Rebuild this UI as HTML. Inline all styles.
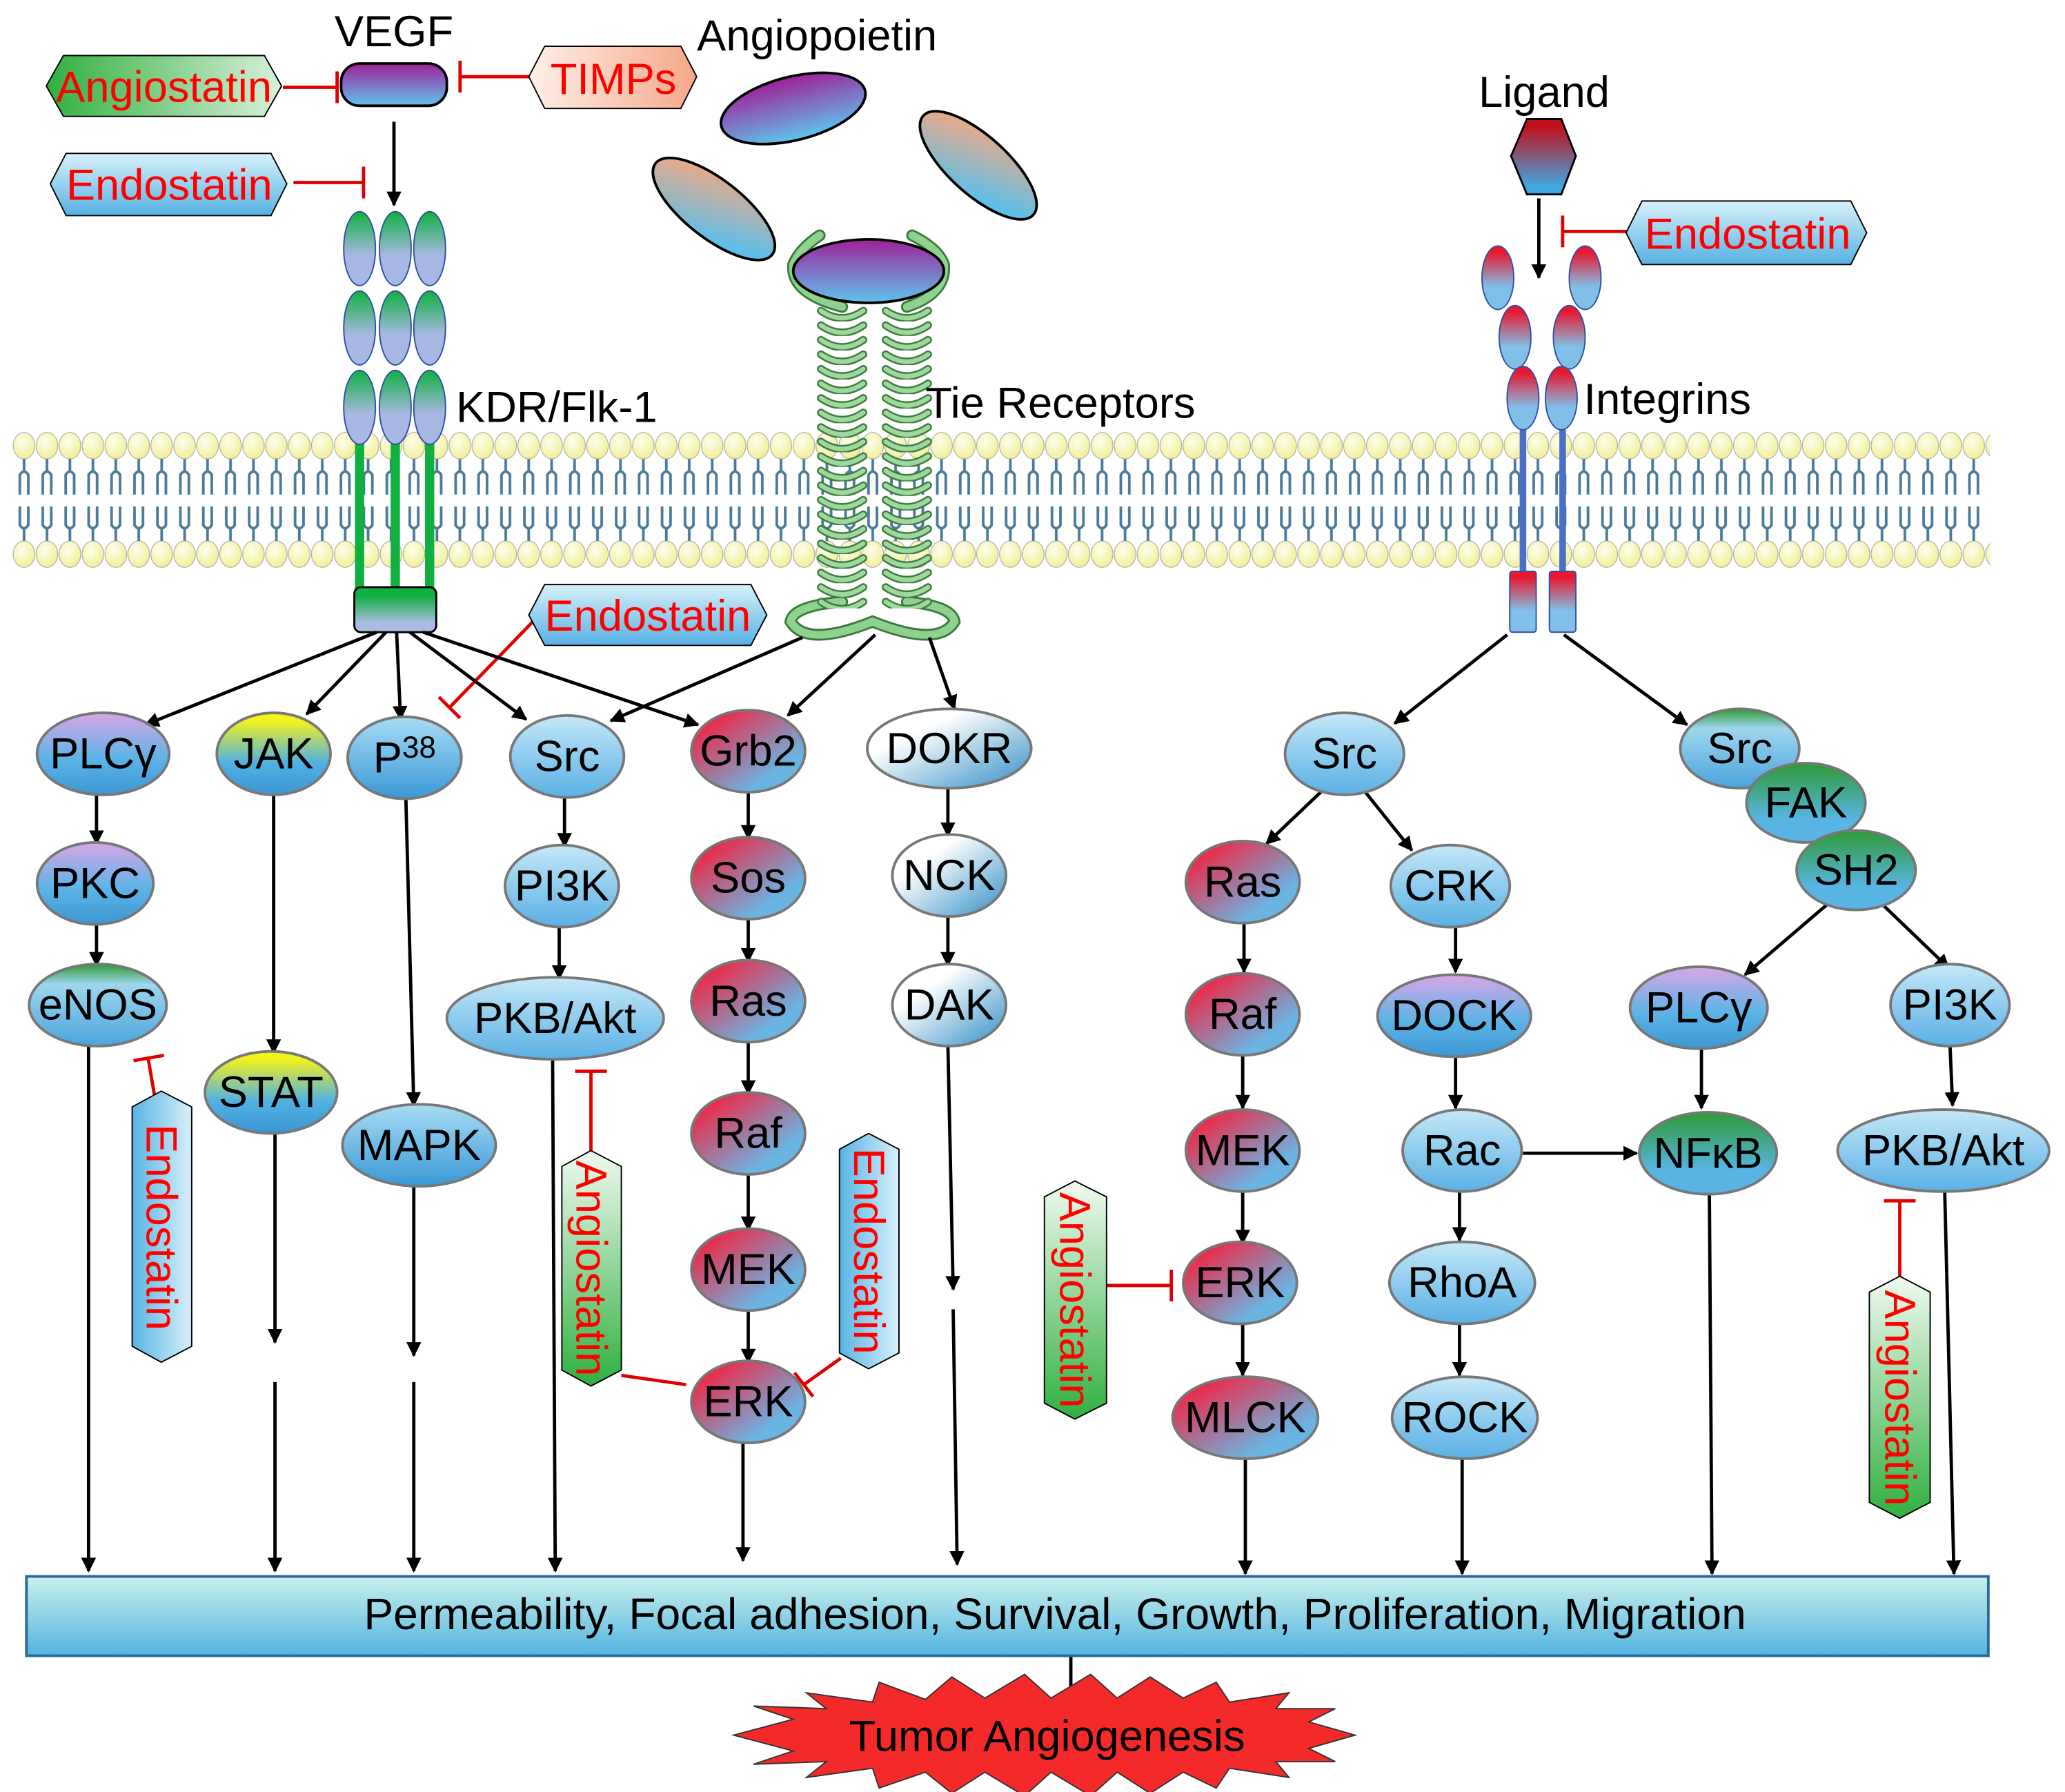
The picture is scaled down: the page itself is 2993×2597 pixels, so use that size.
<!DOCTYPE html>
<html><head><meta charset="utf-8"><style>html,body{margin:0;padding:0;background:#fff}svg{display:block}</style></head>
<body>
<svg xmlns="http://www.w3.org/2000/svg" width="2993" height="2597" viewBox="0 0 1562 1355" preserveAspectRatio="none" font-family="Liberation Sans, sans-serif">
<defs>
<radialGradient id="head" cx="0.4" cy="0.35" r="0.7"><stop offset="0" stop-color="#fffff0"/><stop offset="1" stop-color="#f0ee90"/></radialGradient>
<pattern id="mem" x="9.5" y="326" width="17.35" height="106" patternUnits="userSpaceOnUse">
<ellipse cx="8.7" cy="11" rx="8.2" ry="10" fill="url(#head)" stroke="#aaa" stroke-width="0.6"/>
<ellipse cx="8.7" cy="93" rx="8.2" ry="10" fill="url(#head)" stroke="#aaa" stroke-width="0.6"/>
<path d="M8.7 21 V30 M5.5 48 V33 Q8.7 28 11.9 33 V48 M8.7 83 V74 M5.5 57 V71 Q8.7 76 11.9 71 V57" stroke="#4a7a98" stroke-width="2" fill="none"/>
</pattern>
<pattern id="coilA" x="617" y="232" width="40" height="11" patternUnits="userSpaceOnUse">
<path d="M4 3 Q20 14 36 3" stroke="#3a7a3a" stroke-width="6" fill="none" stroke-linecap="round"/>
<path d="M4 3 Q20 14 36 3" stroke="#9ed89e" stroke-width="3.5" fill="none" stroke-linecap="round"/>
</pattern>
<pattern id="coilB" x="666" y="232" width="40" height="11" patternUnits="userSpaceOnUse">
<path d="M4 3 Q20 14 36 3" stroke="#3a7a3a" stroke-width="6" fill="none" stroke-linecap="round"/>
<path d="M4 3 Q20 14 36 3" stroke="#9ed89e" stroke-width="3.5" fill="none" stroke-linecap="round"/>
</pattern>
<linearGradient id="gP" x1="0" y1="0" x2="0" y2="1"><stop offset="0" stop-color="#d9a6e6"/><stop offset="0.55" stop-color="#5eb4e6"/><stop offset="1" stop-color="#3c98d4"/></linearGradient>
<linearGradient id="gY" x1="0" y1="0" x2="0" y2="1"><stop offset="0.1" stop-color="#f2f21c"/><stop offset="0.6" stop-color="#52b2e2"/><stop offset="1" stop-color="#3a96d4"/></linearGradient>
<linearGradient id="gB" x1="0" y1="0" x2="0" y2="1"><stop offset="0" stop-color="#a8dcf4"/><stop offset="1" stop-color="#3a98d6"/></linearGradient>
<linearGradient id="gBL" x1="0" y1="0" x2="0" y2="1"><stop offset="0" stop-color="#c4e8f8"/><stop offset="1" stop-color="#5ab0e4"/></linearGradient>
<linearGradient id="gR" x1="0" y1="0" x2="1" y2="1"><stop offset="0.15" stop-color="#ec2a48"/><stop offset="0.75" stop-color="#6ab4e2"/></linearGradient>
<linearGradient id="gW" x1="0" y1="0" x2="1" y2="1"><stop offset="0.3" stop-color="#ffffff"/><stop offset="1" stop-color="#2e8cc4"/></linearGradient>
<linearGradient id="gG" x1="0" y1="0" x2="0" y2="1"><stop offset="0" stop-color="#2e9a34"/><stop offset="0.7" stop-color="#58b4e2"/></linearGradient>
<linearGradient id="gGB" x1="0" y1="0" x2="0" y2="1"><stop offset="0" stop-color="#2e9a34"/><stop offset="0.25" stop-color="#9ed6ee"/><stop offset="1" stop-color="#4aa4dc"/></linearGradient>
<linearGradient id="gVE" x1="0" y1="0" x2="0" y2="1"><stop offset="0" stop-color="#a0209a"/><stop offset="1" stop-color="#5ec4ec"/></linearGradient>
<linearGradient id="gOR" x1="0" y1="0" x2="1" y2="1"><stop offset="0.1" stop-color="#f4a882"/><stop offset="0.8" stop-color="#5ebee8"/></linearGradient>
<linearGradient id="gKDR" x1="0" y1="0" x2="0" y2="1"><stop offset="0" stop-color="#10b040"/><stop offset="0.6" stop-color="#a8b8e4"/></linearGradient>
<linearGradient id="gBox" x1="0" y1="0" x2="0" y2="1"><stop offset="0.2" stop-color="#10b040"/><stop offset="0.8" stop-color="#aabce4"/></linearGradient>
<linearGradient id="gInt" x1="0" y1="0" x2="0" y2="1"><stop offset="0.1" stop-color="#e81830"/><stop offset="0.65" stop-color="#80c0e8"/></linearGradient>
<linearGradient id="gLig" x1="0" y1="0" x2="0" y2="1"><stop offset="0.1" stop-color="#c0101c"/><stop offset="0.9" stop-color="#40a8e0"/></linearGradient>
<linearGradient id="hG" x1="0" y1="0" x2="1" y2="0"><stop offset="0" stop-color="#30b040"/><stop offset="1" stop-color="#d8f0d8"/></linearGradient>
<linearGradient id="hGv" x1="0" y1="0" x2="0" y2="1"><stop offset="0" stop-color="#f0faf0"/><stop offset="1" stop-color="#30b040"/></linearGradient>
<linearGradient id="hO" x1="0" y1="0" x2="1" y2="0"><stop offset="0" stop-color="#fff0e8"/><stop offset="1" stop-color="#f4a888"/></linearGradient>
<linearGradient id="hB" x1="0" y1="0" x2="0" y2="1"><stop offset="0" stop-color="#d8f0fa"/><stop offset="1" stop-color="#56b2e4"/></linearGradient>
<linearGradient id="hBv" x1="0" y1="0" x2="1" y2="0"><stop offset="0" stop-color="#58b4e4"/><stop offset="1" stop-color="#d8f0fa"/></linearGradient>
<linearGradient id="bar" x1="0" y1="0" x2="0" y2="1"><stop offset="0" stop-color="#c8f0ee"/><stop offset="1" stop-color="#54b4e0"/></linearGradient>
<marker id="ar" viewBox="0 0 10 10" refX="9" refY="5" markerWidth="4.5" markerHeight="4.5" orient="auto"><path d="M0 0 L10 5 L0 10 z" fill="#000"/></marker>
</defs>

<rect x="9.5" y="326" width="1496" height="106" fill="url(#mem)"/>

<!-- KDR receptor -->
<g stroke="#10b040" stroke-width="7"><line x1="272" y1="320" x2="272" y2="448"/><line x1="299" y1="320" x2="299" y2="448"/><line x1="325" y1="320" x2="325" y2="448"/></g>
<g fill="url(#gKDR)" stroke="#3050a0" stroke-width="1">
<ellipse cx="272" cy="188" rx="12" ry="28"/><ellipse cx="299" cy="188" rx="12" ry="28"/><ellipse cx="325" cy="188" rx="12" ry="28"/>
<ellipse cx="272" cy="248" rx="12" ry="28"/><ellipse cx="299" cy="248" rx="12" ry="28"/><ellipse cx="325" cy="248" rx="12" ry="28"/>
<ellipse cx="272" cy="308" rx="12" ry="28"/><ellipse cx="299" cy="308" rx="12" ry="28"/><ellipse cx="325" cy="308" rx="12" ry="28"/>
</g>
<rect x="268" y="444" width="62" height="34" rx="5" fill="url(#gBox)" stroke="#000" stroke-width="1.5"/>
<text x="345" y="319" font-size="33">KDR/Flk-1</text>

<!-- VEGF -->
<rect x="258" y="48" width="80" height="32" rx="14" fill="url(#gVE)" stroke="#000" stroke-width="2"/>
<text x="298" y="35" font-size="33" text-anchor="middle">VEGF</text>
<line x1="298" y1="92" x2="298" y2="155" stroke="#000" stroke-width="2.5" marker-end="url(#ar)"/>

<!-- Angiopoietin -->
<text x="618" y="38" font-size="33" text-anchor="middle">Angiopoietin</text>
<ellipse cx="600" cy="82" rx="56" ry="24" transform="rotate(-14 600 82)" fill="url(#gVE)" stroke="#000" stroke-width="2"/>
<ellipse cx="540" cy="158" rx="56" ry="22" transform="rotate(38 540 158)" fill="url(#gOR)" stroke="#000" stroke-width="2"/>
<ellipse cx="740" cy="125" rx="56" ry="22" transform="rotate(42 740 125)" fill="url(#gOR)" stroke="#000" stroke-width="2"/>
<!-- Tie receptor -->
<g fill="none" stroke="#3a7a3a" stroke-width="9" stroke-linecap="round">
<path d="M620 178 Q605 188 600 200 Q598 222 637 232 M690 178 Q710 188 714 200 Q716 222 686 232"/>
<path d="M637 455 Q600 458 598 470 Q610 490 660 470 Q710 490 722 470 Q720 458 686 455"/>
</g>
<g fill="none" stroke="#8fd28f" stroke-width="6" stroke-linecap="round">
<path d="M620 178 Q605 188 600 200 Q598 222 637 232 M690 178 Q710 188 714 200 Q716 222 686 232"/>
<path d="M637 455 Q600 458 598 470 Q610 490 660 470 Q710 490 722 470 Q720 458 686 455"/>
</g>
<rect x="617" y="232" width="40" height="228" fill="url(#coilA)"/>
<rect x="666" y="232" width="40" height="228" fill="url(#coilB)"/>
<ellipse cx="657" cy="205" rx="57" ry="24" fill="url(#gVE)" stroke="#000" stroke-width="2"/>
<text x="700" y="316" font-size="33">Tie Receptors</text>

<!-- Ligand + Integrins -->
<text x="1168" y="81" font-size="33" text-anchor="middle">Ligand</text>
<polygon points="1155,90 1181,90 1192,118 1181,147 1155,147 1143,118" fill="url(#gLig)" stroke="#000" stroke-width="1.5"/>
<line x1="1164" y1="150" x2="1164" y2="210" stroke="#000" stroke-width="2.5" marker-end="url(#ar)"/>
<g stroke="#4a70c8" stroke-width="5"><line x1="1152" y1="310" x2="1152" y2="440"/><line x1="1182" y1="310" x2="1182" y2="440"/></g>
<g fill="url(#gInt)" stroke="#3050a0" stroke-width="1">
<ellipse cx="1133" cy="210" rx="12" ry="24"/><ellipse cx="1146" cy="255" rx="12" ry="24"/><ellipse cx="1152" cy="301" rx="12" ry="24"/>
<ellipse cx="1199" cy="210" rx="12" ry="24"/><ellipse cx="1187" cy="255" rx="12" ry="24"/><ellipse cx="1181" cy="301" rx="12" ry="24"/>
<rect x="1142" y="432" width="20" height="46" rx="2"/><rect x="1172" y="432" width="20" height="46" rx="2"/>
</g>
<text x="1198" y="313" font-size="33">Integrins</text>

<!-- Inhibitors -->
<g stroke="#e00000" stroke-width="2.5" fill="none">
<path d="M214 66 H255 M255 54 V78"/>
<path d="M400 58 H348 M348 46 V70"/>
<path d="M222 138 H275 M275 126 V150"/>
<path d="M1232 175 H1182 M1182 163 V187"/>
<path d="M408 465 L340 535 M332 527 L348 543"/>
<path d="M122 858 L112 800 M101 802 L124 798"/>
<path d="M447 872 V810 M435 810 H459"/>
<path d="M519 1047 L470 1040"/>
<path d="M636 1027 L608 1047 M601 1038 L615 1056"/>
<path d="M790 972 H886 M886 960 V984"/>
<path d="M1437 965 V908 M1425 908 H1449"/>
</g>
<g font-size="33" fill="#ff0000" text-anchor="middle">
<polygon points="35,65 48,42 200,42 213,65 200,88 48,88" fill="url(#hG)" stroke="#000" stroke-width="1"/>
<text x="124" y="77">Angiostatin</text>
<polygon points="400,58 412,35 515,35 527,58 515,82 412,82" fill="url(#hO)" stroke="#000" stroke-width="1"/>
<text x="464" y="71">TIMPs</text>
<polygon points="38,139 50,116 205,116 217,139 205,163 50,163" fill="url(#hB)" stroke="#000" stroke-width="1"/>
<text x="128" y="151">Endostatin</text>
<polygon points="400,465 412,442 568,442 580,465 568,488 412,488" fill="url(#hB)" stroke="#000" stroke-width="1"/>
<text x="490" y="477">Endostatin</text>
<polygon points="1230,176 1242,152 1400,152 1412,176 1400,200 1242,200" fill="url(#hB)" stroke="#000" stroke-width="1"/>
<text x="1322" y="188">Endostatin</text>
</g>
<g font-size="33" fill="#ff0000" text-anchor="middle">
<polygon points="100,837 122,825 145,837 145,1018 122,1030 100,1018" fill="url(#hBv)" stroke="#000" stroke-width="1"/>
<text transform="translate(111 928) rotate(90)">Endostatin</text>
<polygon points="425,882 447,870 470,882 470,1036 447,1048 425,1036" fill="url(#hGv)" stroke="#000" stroke-width="1"/>
<text transform="translate(436 959) rotate(90)">Angiostatin</text>
<polygon points="635,869 657,857 680,869 680,1023 657,1035 635,1023" fill="url(#hBv)" stroke="#000" stroke-width="1"/>
<text transform="translate(646 946) rotate(90)">Endostatin</text>
<polygon points="790,905 813,893 837,905 837,1061 813,1073 790,1061" fill="url(#hGv)" stroke="#000" stroke-width="1"/>
<text transform="translate(802 983) rotate(90)">Angiostatin</text>
<polygon points="1414,977 1437,965 1460,977 1460,1136 1437,1148 1414,1136" fill="url(#hGv)" stroke="#000" stroke-width="1"/>
<text transform="translate(1426 1057) rotate(90)">Angiostatin</text>
</g>

<!-- arrows -->
<g stroke="#000" stroke-width="2.5" fill="none" marker-end="url(#ar)">
<line x1="285" y1="478" x2="110" y2="548"/>
<line x1="292" y1="478" x2="232" y2="540"/>
<line x1="300" y1="478" x2="303" y2="544"/>
<line x1="310" y1="478" x2="398" y2="544"/>
<line x1="320" y1="478" x2="528" y2="548"/>
<line x1="607" y1="482" x2="462" y2="545"/>
<line x1="662" y1="480" x2="596" y2="541"/>
<line x1="703" y1="482" x2="722" y2="536"/>
<line x1="73" y1="600" x2="73" y2="638"/>
<line x1="73" y1="698" x2="73" y2="730"/>
<line x1="427" y1="602" x2="427" y2="640"/>
<line x1="423" y1="700" x2="423" y2="740"/>
<line x1="566" y1="598" x2="566" y2="634"/>
<line x1="566" y1="694" x2="566" y2="727"/>
<line x1="566" y1="787" x2="566" y2="827"/>
<line x1="566" y1="887" x2="566" y2="930"/>
<line x1="566" y1="990" x2="566" y2="1030"/>
<line x1="717" y1="596" x2="717" y2="632"/>
<line x1="717" y1="692" x2="717" y2="730"/>
<line x1="207" y1="600" x2="207" y2="796"/>
<line x1="307" y1="603" x2="313" y2="836"/>
<line x1="717" y1="790" x2="721" y2="975"/>
<line x1="208" y1="856" x2="208" y2="1015"/>
<line x1="313" y1="896" x2="313" y2="1025"/>
<line x1="67" y1="790" x2="67" y2="1188"/>
<line x1="208" y1="1045" x2="208" y2="1188"/>
<line x1="313" y1="1045" x2="313" y2="1188"/>
<line x1="418" y1="800" x2="420" y2="1188"/>
<line x1="562" y1="1090" x2="562" y2="1180"/>
<line x1="721" y1="990" x2="724" y2="1183"/>
<line x1="1140" y1="480" x2="1055" y2="547"/>
<line x1="1183" y1="480" x2="1276" y2="548"/>
<line x1="1000" y1="598" x2="958" y2="638"/>
<line x1="1032" y1="598" x2="1068" y2="643"/>
<line x1="941" y1="697" x2="941" y2="735"/>
<line x1="1101" y1="700" x2="1101" y2="735"/>
<line x1="940" y1="797" x2="940" y2="838"/>
<line x1="1101" y1="798" x2="1101" y2="838"/>
<line x1="940" y1="900" x2="940" y2="940"/>
<line x1="1104" y1="900" x2="1104" y2="938"/>
<line x1="940" y1="1000" x2="940" y2="1040"/>
<line x1="1104" y1="1000" x2="1104" y2="1040"/>
<line x1="1152" y1="872" x2="1238" y2="872"/>
<line x1="1382" y1="684" x2="1320" y2="737"/>
<line x1="1424" y1="684" x2="1474" y2="732"/>
<line x1="1287" y1="792" x2="1287" y2="838"/>
<line x1="1475" y1="790" x2="1477" y2="836"/>
<line x1="942" y1="1102" x2="942" y2="1190"/>
<line x1="1106" y1="1102" x2="1106" y2="1190"/>
<line x1="1293" y1="902" x2="1295" y2="1190"/>
<line x1="1471" y1="900" x2="1478" y2="1190"/>
<line x1="810" y1="1252" x2="810" y2="1290"/>
</g>

<!-- nodes -->
<g stroke="#777" stroke-width="2">
<ellipse cx="78" cy="570" rx="50" ry="31" fill="url(#gP)"/>
<ellipse cx="207" cy="570" rx="43" ry="31" fill="url(#gY)"/>
<ellipse cx="306" cy="573" rx="43" ry="31" fill="url(#gB)"/>
<ellipse cx="429" cy="572" rx="43" ry="31" fill="url(#gBL)"/>
<ellipse cx="566" cy="568" rx="43" ry="31" fill="url(#gR)"/>
<ellipse cx="718" cy="566" rx="62" ry="30" fill="url(#gW)"/>
<ellipse cx="72" cy="668" rx="44" ry="31" fill="url(#gP)"/>
<ellipse cx="425" cy="670" rx="43" ry="31" fill="url(#gBL)"/>
<ellipse cx="566" cy="664" rx="43" ry="31" fill="url(#gR)"/>
<ellipse cx="718" cy="662" rx="43" ry="31" fill="url(#gW)"/>
<ellipse cx="74" cy="760" rx="52" ry="31" fill="url(#gGB)"/>
<ellipse cx="420" cy="770" rx="82" ry="31" fill="url(#gBL)"/>
<ellipse cx="566" cy="757" rx="43" ry="31" fill="url(#gR)"/>
<ellipse cx="718" cy="760" rx="43" ry="31" fill="url(#gW)"/>
<ellipse cx="205" cy="826" rx="50" ry="31" fill="url(#gY)"/>
<ellipse cx="317" cy="866" rx="58" ry="31" fill="url(#gB)"/>
<ellipse cx="566" cy="857" rx="43" ry="31" fill="url(#gR)"/>
<ellipse cx="566" cy="960" rx="43" ry="31" fill="url(#gR)"/>
<ellipse cx="566" cy="1060" rx="43" ry="31" fill="url(#gR)"/>
<ellipse cx="1017" cy="570" rx="45" ry="31" fill="url(#gBL)"/>
<ellipse cx="940" cy="667" rx="43" ry="31" fill="url(#gR)"/>
<ellipse cx="1097" cy="670" rx="45" ry="31" fill="url(#gBL)"/>
<ellipse cx="940" cy="767" rx="43" ry="31" fill="url(#gR)"/>
<ellipse cx="1100" cy="768" rx="58" ry="31" fill="url(#gP)"/>
<ellipse cx="940" cy="870" rx="43" ry="31" fill="url(#gR)"/>
<ellipse cx="1106" cy="870" rx="45" ry="31" fill="url(#gBL)"/>
<ellipse cx="938" cy="970" rx="43" ry="31" fill="url(#gR)"/>
<ellipse cx="1106" cy="970" rx="55" ry="31" fill="url(#gBL)"/>
<ellipse cx="942" cy="1072" rx="55" ry="31" fill="url(#gR)"/>
<ellipse cx="1108" cy="1072" rx="55" ry="31" fill="url(#gBL)"/>
<ellipse cx="1316" cy="566" rx="45" ry="30" fill="url(#gGB)"/>
<ellipse cx="1366" cy="607" rx="45" ry="30" fill="url(#gG)"/>
<ellipse cx="1404" cy="658" rx="45" ry="30" fill="url(#gG)"/>
<ellipse cx="1285" cy="762" rx="52" ry="31" fill="url(#gP)"/>
<ellipse cx="1475" cy="760" rx="45" ry="31" fill="url(#gBL)"/>
<ellipse cx="1292" cy="872" rx="52" ry="31" fill="url(#gG)"/>
<ellipse cx="1470" cy="870" rx="80" ry="31" fill="url(#gBL)"/>
</g>
<g font-size="33" text-anchor="middle" fill="#000">
<text x="78" y="581">PLCγ</text><text x="207" y="581">JAK</text><text x="306" y="584">P<tspan font-size="23" dy="-11">38</tspan></text>
<text x="429" y="583">Src</text><text x="566" y="579">Grb2</text><text x="718" y="577">DOKR</text>
<text x="72" y="679">PKC</text><text x="425" y="681">PI3K</text><text x="566" y="675">Sos</text><text x="718" y="673">NCK</text>
<text x="74" y="771">eNOS</text><text x="420" y="781">PKB/Akt</text><text x="566" y="768">Ras</text><text x="718" y="771">DAK</text>
<text x="205" y="837">STAT</text><text x="317" y="877">MAPK</text><text x="566" y="868">Raf</text><text x="566" y="971">MEK</text><text x="566" y="1071">ERK</text>
<text x="1017" y="581">Src</text><text x="940" y="678">Ras</text><text x="1097" y="681">CRK</text><text x="940" y="778">Raf</text><text x="1100" y="779">DOCK</text>
<text x="940" y="881">MEK</text><text x="1106" y="881">Rac</text><text x="938" y="981">ERK</text><text x="1106" y="981">RhoA</text>
<text x="942" y="1083">MLCK</text><text x="1108" y="1083">ROCK</text>
<text x="1316" y="577">Src</text><text x="1366" y="618">FAK</text><text x="1404" y="669">SH2</text>
<text x="1285" y="773">PLCγ</text><text x="1475" y="771">PI3K</text><text x="1292" y="883">NFκB</text><text x="1470" y="881">PKB/Akt</text>
</g>

<rect x="20" y="1192" width="1484" height="60" fill="url(#bar)" stroke="#2a6a9a" stroke-width="2"/>
<text x="798" y="1232" font-size="33.5" text-anchor="middle">Permeability, Focal adhesion, Survival, Growth, Proliferation, Migration</text>

<polygon fill="#f42a2a" stroke="#333" stroke-width="1" points="555,1312 600,1300 570,1290 625,1292 610,1280 660,1287 665,1272 700,1285 720,1268 745,1284 775,1266 795,1284 825,1266 845,1284 870,1268 895,1284 920,1272 930,1287 975,1280 965,1292 1010,1292 990,1302 1025,1312 990,1322 1010,1332 965,1332 975,1344 930,1337 920,1352 895,1340 870,1356 845,1340 825,1358 795,1340 775,1358 745,1340 720,1356 700,1340 665,1352 660,1337 610,1344 625,1332 570,1334 600,1324"/>
<text x="792" y="1324" font-size="33" text-anchor="middle">Tumor Angiogenesis</text>
</svg>
</body></html>
